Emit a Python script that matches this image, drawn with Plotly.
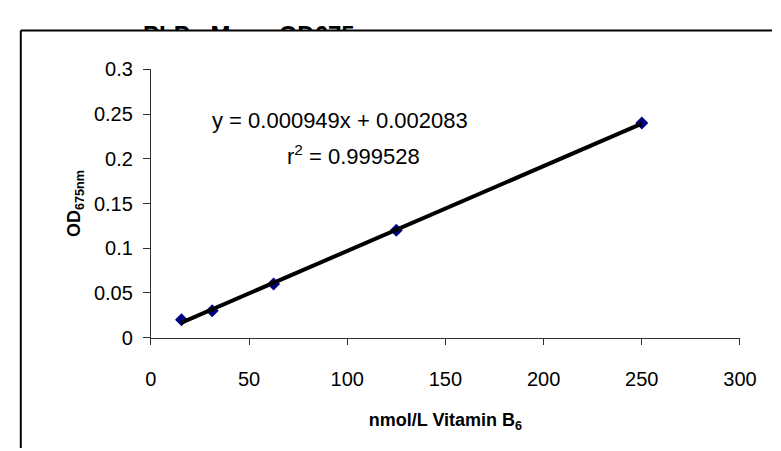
import numpy as np
import plotly.graph_objects as go

# ---- data ----
conc = [15.625, 31.25, 62.5, 125, 250]          # nmol/L Vitamin B6
od = [0.02, 0.03, 0.06, 0.12, 0.24]             # OD 675nm
x_ticks = [0, 50, 100, 150, 200, 250, 300]
y_ticks = [0, 0.05, 0.1, 0.15, 0.2, 0.25, 0.3]
y_tick_text = ["0", "0.05", "0.1", "0.15", "0.2", "0.25", "0.3"]
title_text = "PLP - Mean OD675"
eq_text = "y = 0.000949x + 0.002083"
r2_text = "r<sup>2</sup> = 0.999528"
x_title = "<b>nmol/L Vitamin B<sub>6</sub></b>"
y_title = "<b>OD<sub>675nm</sub></b>"

# linear trend line fitted from the data
slope, intercept = np.polyfit(conc, od, 1)
fit_x = [min(conc), max(conc)]
fit_y = [slope * v + intercept for v in fit_x]

W, H = 781, 451
def px(v):
    return v / W
def py(v):
    return 1 - v / H

FONT = "Liberation Sans, Arial, sans-serif"

fig = go.Figure()
fig.add_trace(go.Scatter(
    x=conc, y=od, mode="markers",
    marker=dict(symbol="diamond", size=10, color="#000080",
                line=dict(width=0)),
    showlegend=False, cliponaxis=False, hoverinfo="skip"))
fig.add_trace(go.Scatter(
    x=fit_x, y=fit_y, mode="lines",
    line=dict(color="black", width=4),
    showlegend=False, cliponaxis=False, hoverinfo="skip"))

# title, partially hidden behind the chart frame (clipped to a thin strip)
fig.add_trace(go.Scatter(
    x=[242], y=[-7], mode="text", text=[f"<b>{title_text}</b>"],
    textposition="middle center",
    textfont=dict(family=FONT, size=24, color="black"),
    xaxis="x2", yaxis="y2", cliponaxis=True,
    showlegend=False, hoverinfo="skip"))

fig.update_layout(
    width=W, height=H,
    margin=dict(l=0, r=0, t=0, b=0),
    paper_bgcolor="white", plot_bgcolor="white",
    font=dict(family=FONT, color="black"),
    xaxis=dict(
        domain=[px(141), px(748)], range=[0, 300],
        tickmode="array", tickvals=x_ticks, ticktext=[str(v) for v in x_ticks],
        showgrid=False, zeroline=False,
        showline=True, linecolor="#303030", linewidth=1,
        ticks="outside", ticklen=6, tickcolor="#303030",
        tickfont=dict(size=20), ticklabelstandoff=17,
        title=dict(text=x_title, font=dict(size=18), standoff=24),
        anchor="y", fixedrange=True,
    ),
    yaxis=dict(
        domain=[py(335), py(53)], range=[0, 0.3],
        tickmode="array", tickvals=y_ticks, ticktext=y_tick_text,
        showgrid=False, zeroline=False,
        showline=True, linecolor="#303030", linewidth=1,
        ticks="outside", ticklen=7, tickcolor="#303030",
        tickfont=dict(size=20), ticklabelstandoff=6,
        title=dict(text=y_title, font=dict(size=18), standoff=8),
        anchor="x", fixedrange=True,
    ),
    xaxis2=dict(domain=[0, 1], range=[0, W], visible=False, anchor="y2",
                fixedrange=True),
    yaxis2=dict(domain=[py(12), 1], range=[0, 12], visible=False,
                anchor="x2", fixedrange=True),
    annotations=[
        dict(text=eq_text, x=px(336), y=py(107), xref="paper", yref="paper",
             showarrow=False, xanchor="center", yanchor="middle",
             font=dict(size=22, family=FONT)),
        dict(text=r2_text, x=px(350), y=py(143), xref="paper", yref="paper",
             showarrow=False, xanchor="center", yanchor="middle",
             font=dict(size=22, family=FONT)),
    ],
    shapes=[
        dict(type="line", xref="paper", yref="paper",
             x0=px(7), y0=0, x1=px(7), y1=py(12),
             line=dict(color="black", width=2)),
        dict(type="line", xref="paper", yref="paper",
             x0=px(7), y0=py(12), x1=1, y1=py(12),
             line=dict(color="black", width=2)),
    ],
)

fig.write_html("out.html")
